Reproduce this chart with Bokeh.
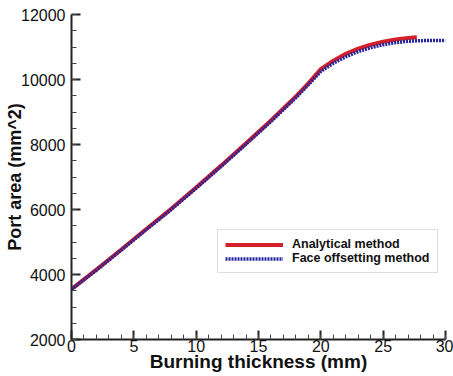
from bokeh.plotting import figure
from bokeh.models import Range1d, SingleIntervalTicker, Legend, LegendItem
from bokeh.embed import file_html
from bokeh.resources import INLINE

# Analytical method (burning thickness mm, port area mm^2)
analytical_x = [0, 2, 4, 6, 8, 10, 12, 14, 16, 18, 19, 20, 21, 22, 23, 24, 25, 26, 27, 27.7]
analytical_y = [3550, 4150, 4770, 5400, 6020, 6680, 7350, 8040, 8740, 9480, 9880, 10320,
                10580, 10790, 10950, 11070, 11160, 11230, 11280, 11300]

# Face offsetting method
offset_x = [0, 2, 4, 6, 8, 10, 12, 14, 16, 18, 19, 20, 21, 22, 23, 24, 25, 26, 27, 28, 29, 30]
offset_y = [3540, 4135, 4755, 5380, 6000, 6655, 7325, 8010, 8710, 9440, 9840, 10250,
            10500, 10700, 10860, 10980, 11070, 11135, 11175, 11195, 11200, 11200]

x_label = "Burning thickness (mm)"
y_label = "Port area (mm^2)"
series_names = ["Analytical method", "Face offsetting method"]

FONT = "Liberation Sans"

p = figure(width=453, height=376, output_backend="svg", toolbar_location=None,
           x_range=Range1d(0, 30), y_range=Range1d(2000, 12000),
           min_border_left=71, min_border_right=8, min_border_top=14, min_border_bottom=37)
p.outline_line_color = None
p.grid.visible = False
p.background_fill_color = "white"
p.border_fill_color = "white"

r1 = p.line(analytical_x, analytical_y, line_color="#d42028", line_width=4)
r2 = p.line(offset_x, offset_y, line_color="#24249c", line_width=3.5, line_dash="2 1")

p.xaxis.ticker = SingleIntervalTicker(interval=5, num_minor_ticks=5)
p.yaxis.ticker = SingleIntervalTicker(interval=2000, num_minor_ticks=4)

for ax in (p.xaxis, p.yaxis):
    ax.axis_line_width = 2
    ax.axis_line_color = "#222222"
    ax.major_tick_in = 9
    ax.major_tick_out = 0
    ax.minor_tick_in = 5
    ax.minor_tick_out = 0
    ax.major_tick_line_width = 2
    ax.major_tick_line_color = "#222222"
    ax.minor_tick_line_width = 1
    ax.minor_tick_line_color = "#444444"
    ax.major_label_text_font = FONT
    ax.major_label_text_font_size = "16px"
    ax.major_label_text_color = "#111111"
    ax.axis_label_text_font = FONT
    ax.axis_label_text_font_style = "bold"
    ax.axis_label_text_color = "#111111"

p.xaxis.axis_label = x_label
p.yaxis.axis_label = y_label
p.xaxis.axis_label_text_font_size = "19px"
p.yaxis.axis_label_text_font_size = "18px"
p.xaxis.major_label_standoff = 0
p.yaxis.major_label_standoff = 6
p.xaxis.axis_label_standoff = -4
p.yaxis.axis_label_standoff = -7

legend = Legend(items=[LegendItem(label=series_names[0], renderers=[r1]),
                       LegendItem(label=series_names[1], renderers=[r2])],
                location=(146, 66))
legend.label_text_font = FONT
legend.label_text_font_style = "bold"
legend.label_text_font_size = "12.5px"
legend.label_text_color = "#111111"
legend.border_line_color = "#bbbbbb"
legend.border_line_width = 1
legend.padding = 7
legend.spacing = 0
legend.margin = 0
legend.label_height = 13
legend.glyph_height = 13
legend.glyph_width = 58
legend.label_standoff = 9
legend.background_fill_alpha = 1
p.add_layout(legend)

open("out.html", "w").write(file_html(p, INLINE))
